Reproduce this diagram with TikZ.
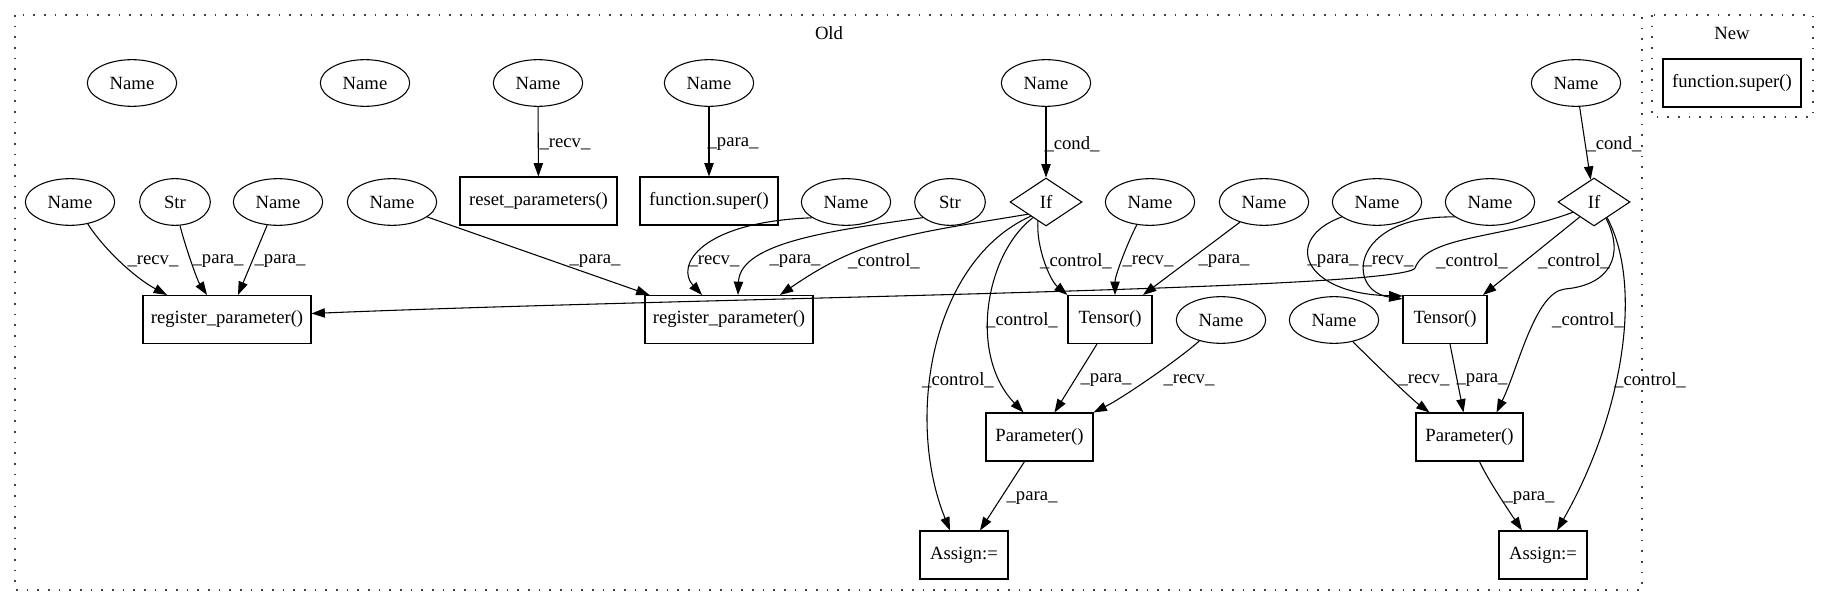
\documentclass[tikz,border=0pt]{standalone}
\usepackage{fontspec}
\setmainfont{Liberation Serif}
\usetikzlibrary{shapes.geometric,arrows.meta,calc}

\begin{document}
\begin{tikzpicture}[
  x=0.75pt, y=-0.75pt,
  every node/.style={font=\fontsize{14}{16}\selectfont},
  nm/.style={draw, ellipse, line width=0.8pt, minimum width=67pt, minimum height=35pt, inner sep=0pt},
  lit/.style={nm, minimum width=53pt},
  op/.style={draw, rectangle, line width=0.8pt, minimum height=36pt, inner sep=0pt},
  cnd/.style={draw, diamond, aspect=1.5, line width=0.8pt, minimum width=54pt, minimum height=36pt, inner sep=0pt},
  lbl/.style={inner sep=0pt},
  arr/.style={-{Triangle[length=10pt,width=7pt]}, line width=0.8pt},
  grp/.style={draw, line width=1pt, black!75, dash pattern=on 1.2pt off 6.8pt}]
  \useasboundingbox (0,0) rectangle (1828,606);

  % clusters
  \draw[grp] (15,15) rectangle (1642,590);
  \node (oldtag) at (829,33) {Old};
  \draw[grp] (1652,15) rectangle (1813,117);
  \node (newtag) at (1732,33) {New};
  \node[op, minimum width=103.5pt] (superNew) at (1732,83) {function.super()};

  % top row
  \node[nm] (free1) at (132,83) {Name};
  \node[nm] (free2) at (365,83) {Name};
  \node[nm] (rstobj) at (538,83) {Name};
  \node[nm] (superarg) at (709,83) {Name};
  \node[nm] (condA) at (1046,83) {Name};
  \node[nm] (condB) at (1576,83) {Name};

  % second row
  \node[nm] (regLobj) at (70,202) {Name};
  \node[lit] (regLkey) at (175,202) {Str};
  \node[nm] (regLval) at (278,202) {Name};
  \node[nm] (regMval) at (392,202) {Name};
  \node[op, minimum width=117.75pt] (reset) at (538.5,201) {reset\_parameters()};
  \node[op, minimum width=103.5pt] (super) at (709,201) {function.super()};
  \node[nm] (regMobj) at (846,202) {Name};
  \node[lit] (regMkey) at (950,202) {Str};
  \node[cnd] (ifA) at (1046,202) {If};
  \node[nm] (tenAobj) at (1150,202) {Name};
  \node[nm] (tenAarg) at (1264,202) {Name};
  \node[nm] (tenBarg) at (1377,202) {Name};
  \node[nm] (tenBobj) at (1490,202) {Name};
  \node[cnd] (ifB) at (1594,202) {If};

  % calls
  \node[op, minimum width=126pt] (regL) at (227,319.5) {register\_parameter()};
  \node[op, minimum width=126pt] (regM) at (729,319.5) {register\_parameter()};
  \node[op, minimum width=63pt] (tenA) at (1110,319.5) {Tensor()};
  \node[nm] (parAobj) at (1221,320) {Name};
  \node[nm] (parBobj) at (1334,320) {Name};
  \node[op, minimum width=63pt] (tenB) at (1445,319.5) {Tensor()};
  \node[op, minimum width=80.25pt] (parA) at (1039.5,437) {Parameter()};
  \node[op, minimum width=80.25pt] (parB) at (1469.5,437) {Parameter()};
  \node[op, minimum width=66pt] (asgA) at (964,555) {Assign:=};
  \node[op, minimum width=66pt] (asgB) at (1543,555) {Assign:=};

  % edges
  \draw[arr] (rstobj) -- (reset) node[lbl] at (565,144) {\_recv\_};
  \draw[arr] (superarg) -- (super) node[lbl] at (733,144) {\_para\_};
  \draw[arr] (condA) -- (ifA) node[lbl] at (1072,144) {\_cond\_};
  \draw[arr] (condB) -- (ifB) node[lbl] at (1614,144) {\_cond\_};

  \draw[arr] (regLobj.-51) .. controls +(16,25) and +(-32,-17) .. ($(regL.north)+(-60,0)$) node[lbl] at (153,261) {\_recv\_};
  \draw[arr] (regLkey.-78) .. controls +(5,20) and +(-10,-15) .. ($(regL.north)+(-20,0)$) node[lbl] at (218,261) {\_para\_};
  \draw[arr] (regLval.-115) -- ($(regL.north)+(11,0)$) node[lbl] at (280,261) {\_para\_};
  \draw[arr] (regMval.-23) -- ($(regM.north west)+(5,0)$) node[lbl] at (595,261) {\_para\_};
  \coordinate (bend) at (1415,268);
  \draw[arr] ($(ifB.south)!.58!(ifB.west)$) .. controls +(-73,27) and +(13,-33) .. (bend)
    .. controls +(-10,22) and +(387,-16) .. ($(regL.east)+(0,-6)$) node[lbl] at (1472,261) {\_control\_};

  \draw[arr] (regMobj.-155) .. controls +(-112,4) and +(-27,-29) .. ($(regM.north)+(-27,0)$) node[lbl] at (714,261) {\_recv\_};
  \draw[arr] (regMkey.-150) .. controls +(-82,12) and +(2,-54) .. ($(regM.north)+(9,0)$) node[lbl] at (795,261) {\_para\_};
  \draw[arr] (ifA.south west) .. controls +(-128,21) and +(80,-55) .. ($(regM.north)+(51,0)$) node[lbl] at (884,261) {\_control\_};

  \draw[arr] ($(ifA.south)!.22!(ifA.west)$) .. controls +(-2,25) and +(-18,-15) .. (tenA.north west) node[lbl] at (1076,261) {\_control\_};
  \draw[arr] (tenAobj.-120) .. controls +(-8,15) and +(0,-20) .. ($(tenA.north)+(5,0)$) node[lbl] at (1148,261) {\_recv\_};
  \draw[arr] (tenAarg.-140) -- ($(tenA.north)+(33,0)$) node[lbl] at (1224,261) {\_para\_};
  \draw[arr] ($(ifA.south)!.42!(ifA.west)$) .. controls +(-100,45) and +(-45,-111) .. ($(asgA.north)+(-14,0)$) node[lbl] at (958,380) {\_control\_};
  \draw[arr] ($(ifA.south)!.36!(ifA.west)$) .. controls +(-48,37) and +(-55,-57) .. ($(parA.north)+(-16,0)$) node[lbl] at (1022,320) {\_control\_};
  \draw[arr] ($(tenA.south)+(-13,0)$) -- ($(parA.north)+(15,0)$) node[lbl] at (1106,380) {\_para\_};
  \draw[arr] (parAobj.-136) .. controls +(-20,18) and +(30,-15) .. (parA.north east) node[lbl] at (1189,380) {\_recv\_};
  \draw[arr] ($(parA.south)+(-15,0)$) -- ($(asgA.north)+(16,0)$) node[lbl] at (1032,498) {\_para\_};

  \draw[arr] (tenBarg.-157) .. controls +(-60,22) and +(-100,-2) .. ($(tenB.north west)+(0,1)$) node[lbl] at (1333,261) {\_para\_};
  \draw[arr] (tenBobj.-157) .. controls +(-105,-2) and +(-57,-8) .. ($(tenB.north west)+(0,4)$) node[lbl] at (1388,261) {\_recv\_};
  \draw[arr] ($(ifB.south)!.39!(ifB.west)$) -- ($(tenB.north)+(38,0)$) node[lbl] at (1574,261) {\_control\_};
  \coordinate (bend2) at (1565,289);
  \draw[arr] ($(ifB.south)!.33!(ifB.east)$) .. controls +(19,37) and +(45,-4) .. (bend2)
    .. controls +(-30,3) and +(22,-45) .. ($(parB.north)+(27,0)$) node[lbl] at (1588,320) {\_control\_};
  \draw[arr] ($(ifB.south)!.36!(ifB.east)$) .. controls +(38,72) and +(63,-110) .. ($(asgB.north)+(14,0)$) node[lbl] at (1650,380) {\_control\_};
  \draw[arr] (parBobj.-49) .. controls +(15,15) and +(-20,-15) .. ($(parB.north)+(-40,0)$) node[lbl] at (1424,380) {\_recv\_};
  \draw[arr] ($(tenB.south)+(5,0)$) -- ($(parB.north)+(-6,0)$) node[lbl] at (1482,380) {\_para\_};
  \draw[arr] ($(parB.south)+(10,0)$) .. controls +(8,18) and +(-10,-15) .. ($(asgB.north)+(-21,0)$) node[lbl] at (1529,498) {\_para\_};
\end{tikzpicture}
\end{document}
